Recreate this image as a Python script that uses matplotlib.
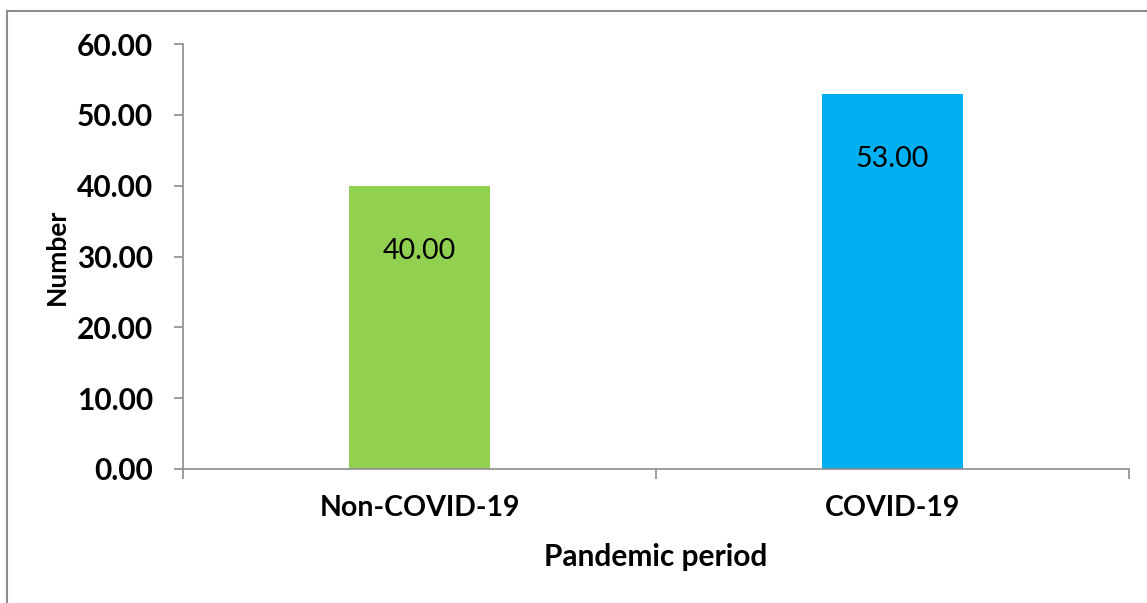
import matplotlib
matplotlib.use("Agg")
import matplotlib.pyplot as plt
from matplotlib.lines import Line2D
from matplotlib.ticker import FixedLocator, FixedFormatter

categories = ["Non-COVID-19", "COVID-19"]
values = [40.00, 53.00]
bar_colors = ["#92D050", "#00B0F0"]
y_ticks = [0, 10, 20, 30, 40, 50, 60]

plt.rcParams['font.family'] = ['Lato', 'DejaVu Sans']

W, H = 1147, 603
fig = plt.figure(figsize=(W / 100, H / 100), dpi=100)
ax = fig.add_axes([183 / W, 1 - 469 / H, (1129 - 183) / W, (469 - 44) / H])

x = list(range(len(categories)))
bars = ax.bar(x, values, width=0.296, color=bar_colors, zorder=2)

for b, v in zip(bars, values):
    ax.annotate(f"{v:.2f}", (b.get_x() + b.get_width() / 2, v),
                xytext=(0, -47), textcoords="offset points",
                ha="center", va="center", fontsize=20.5, color="black")

ax.set_xlim(-0.5, len(categories) - 0.5)
ax.set_ylim(0, 60)

axis_col = "#8C8C8C"
for s in ["top", "right"]:
    ax.spines[s].set_visible(False)
ax.spines["left"].set_color(axis_col)
ax.spines["bottom"].set_color(axis_col)
ax.spines["left"].set_linewidth(1.2)
ax.spines["bottom"].set_linewidth(1.2)

ax.set_yticks(y_ticks)
ax.set_yticklabels([f"{t:.2f}" for t in y_ticks], fontsize=21.5, fontweight="bold")
ax.tick_params(axis="y", length=6.5, width=1.2, color=axis_col, pad=15)

# category boundaries as major ticks, names on minor ticks
ax.xaxis.set_major_locator(FixedLocator([-0.5, 0.5, 1.5]))
ax.xaxis.set_major_formatter(FixedFormatter(["", "", ""]))
ax.xaxis.set_minor_locator(FixedLocator(x))
ax.xaxis.set_minor_formatter(FixedFormatter(categories))
ax.tick_params(axis="x", which="major", length=7, width=1.2, color=axis_col)
ax.tick_params(axis="x", which="minor", length=0, pad=19, labelsize=20.5)
for lab in ax.get_xticklabels(minor=True):
    lab.set_fontweight("bold")

fig.text(656 / W, 1 - 557 / H, "Pandemic period", ha="center", va="center",
         fontsize=21.5, fontweight="bold")
fig.text(57 / W, 1 - 257 / H, "Number", ha="center", va="center",
         rotation=90, fontsize=19, fontweight="bold")

# outer chart border (top and left edges visible)
fig.add_artist(Line2D([6.5 / W, 1.0], [1 - 11 / H, 1 - 11 / H],
                      transform=fig.transFigure, color="#8C8C8C", lw=1.5))
fig.add_artist(Line2D([6.5 / W, 6.5 / W], [0.0, 1 - 11 / H],
                      transform=fig.transFigure, color="#8C8C8C", lw=1.5))

fig.savefig("out.png", dpi=100)
